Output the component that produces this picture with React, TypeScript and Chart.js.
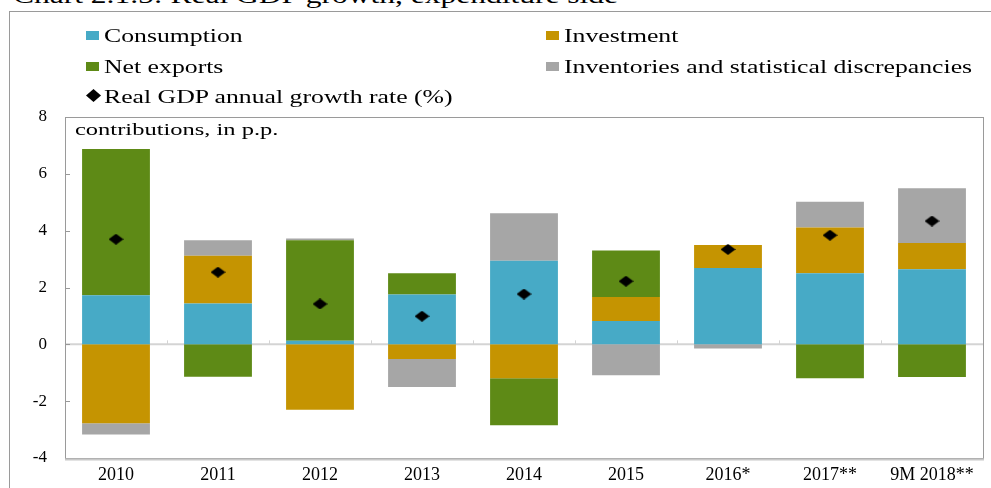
import React, { useEffect, useRef } from "react";
import { Chart, registerables } from "chart.js";

Chart.register(...registerables);

const categories = ["2010", "2011", "2012", "2013", "2014", "2015", "2016*", "2017**", "9M 2018**"];
const consumption = [1.73, 1.44, 0.13, 1.75, 2.94, 0.82, 2.69, 2.5, 2.64];
const investment = [-2.78, 1.68, -2.3, -0.52, -1.19, 0.85, 0.81, 1.61, 0.93];
const netExports = [5.14, -1.14, 3.53, 0.75, -1.66, 1.63, 0, -1.19, -1.15];
const inventories = [-0.39, 0.54, 0.06, -0.98, 1.67, -1.09, -0.15, 0.91, 1.92];
const gdpGrowth = [3.7, 2.54, 1.42, 0.99, 1.77, 2.22, 3.34, 3.84, 4.34];
const yTicks = [-4, -2, 0, 2, 4, 6, 8];

const C_CONS = "#47AAC6";
const C_INV = "#C59401";
const C_NX = "#5E8A16";
const C_INVT = "#A6A6A6";

const SERIF = "'Liberation Serif', 'Times New Roman', serif";

function makeDiamond(): HTMLCanvasElement {
  const c = document.createElement("canvas");
  c.width = 15;
  c.height = 11;
  const ctx = c.getContext("2d")!;
  ctx.fillStyle = "#000";
  ctx.beginPath();
  ctx.moveTo(0, 5.5);
  ctx.lineTo(7.5, 0);
  ctx.lineTo(15, 5.5);
  ctx.lineTo(7.5, 11);
  ctx.closePath();
  ctx.fill();
  return c;
}

const framePlugin = {
  id: "frame",
  beforeDatasetsDraw(chart: any) {
    const { ctx, chartArea } = chart;
    const y = chart.scales.y;
    const x = chart.scales.x;
    const y0 = y.getPixelForValue(0);
    ctx.save();
    ctx.strokeStyle = "#d4d4d4";
    ctx.lineWidth = 2;
    ctx.beginPath();
    ctx.moveTo(chartArea.left, y0);
    ctx.lineTo(chartArea.right, y0);
    ctx.stroke();
    ctx.lineWidth = 1;
    const n = categories.length;
    for (let i = 1; i < n; i++) {
      const xb = Math.round((x.getPixelForValue(i - 1) + x.getPixelForValue(i)) / 2) + 0.5;
      ctx.beginPath();
      ctx.moveTo(xb, y0);
      ctx.lineTo(xb, y0 - 4);
      ctx.stroke();
    }
    ctx.strokeStyle = "#999";
    yTicks.forEach((v) => {
      const py = Math.round(y.getPixelForValue(v)) + 0.5;
      ctx.beginPath();
      ctx.moveTo(chartArea.left, py);
      ctx.lineTo(chartArea.left + 5, py);
      ctx.stroke();
    });
    ctx.restore();
  },
  afterDraw(chart: any) {
    const { ctx, chartArea } = chart;
    ctx.save();
    ctx.strokeStyle = "#9a9a9a";
    ctx.lineWidth = 1;
    ctx.strokeRect(
      Math.round(chartArea.left) + 0.5,
      Math.round(chartArea.top) + 0.5,
      Math.round(chartArea.right - chartArea.left),
      Math.round(chartArea.bottom - chartArea.top)
    );
    ctx.strokeStyle = "#c8c8c8";
    ctx.lineWidth = 2;
    ctx.beginPath();
    ctx.moveTo(chartArea.left, Math.round(chartArea.bottom) + 1.5);
    ctx.lineTo(chartArea.right + 1, Math.round(chartArea.bottom) + 1.5);
    ctx.stroke();
    ctx.restore();
  },
};

const legendItems = [
  { label: "Consumption", color: C_CONS, left: 86, row: 0 },
  { label: "Investment", color: C_INV, left: 546, row: 0 },
  { label: "Net exports", color: C_NX, left: 86, row: 1 },
  { label: "Inventories and statistical discrepancies", color: C_INVT, left: 546, row: 1 },
];
const rowBaselines = [42, 73, 103];
const LEG_FONT = 18;
const STRETCH = 1.4;
const LEG_STRETCH = 1.43;

export default function App() {
  const ref = useRef<HTMLCanvasElement | null>(null);

  useEffect(() => {
    if (!ref.current) return;
    const diamond = makeDiamond();
    const barCommon = {
      type: "bar" as const,
      barPercentage: 0.665,
      categoryPercentage: 1,
      borderWidth: 0,
      order: 2,
      stack: "contrib",
    };
    const chart = new Chart(ref.current, {
      type: "bar",
      data: {
        labels: categories,
        datasets: [
          { ...barCommon, label: "Consumption", data: consumption, backgroundColor: C_CONS },
          { ...barCommon, label: "Investment", data: investment, backgroundColor: C_INV },
          { ...barCommon, label: "Net exports", data: netExports, backgroundColor: C_NX },
          { ...barCommon, label: "Inventories and statistical discrepancies", data: inventories, backgroundColor: C_INVT },
          {
            type: "line" as const,
            label: "Real GDP annual growth rate (%)",
            data: gdpGrowth,
            showLine: false,
            pointStyle: diamond as any,
            pointRadius: 7,
            stack: "gdp",
            order: 0,
          } as any,
        ],
      },
      options: {
        responsive: false,
        animation: false,
        devicePixelRatio: 1,
        layout: { padding: { left: 0, top: 117, right: 6, bottom: 0 } },
        plugins: { legend: { display: false }, tooltip: { enabled: false }, title: { display: false } },
        scales: {
          x: {
            stacked: true,
            grid: { display: false, drawTicks: false },
            border: { display: false },
            ticks: { color: "#000", font: { family: SERIF, size: 18 }, padding: 6, maxRotation: 0, autoSkip: false },
            afterFit: (s: any) => {
              s.height = 30;
            },
          },
          y: {
            stacked: true,
            min: -4,
            max: 8,
            grid: { display: false, drawTicks: false },
            border: { display: false },
            ticks: { stepSize: 2, color: "#000", font: { family: SERIF, size: 17 }, padding: 18 },
            afterFit: (s: any) => {
              s.width = 65;
            },
          },
        },
      },
      plugins: [framePlugin],
    } as any);
    return () => chart.destroy();
  }, []);

  const textStyle = (left: number, baseline: number, size: number, stretch = STRETCH): React.CSSProperties => ({
    position: "absolute",
    left,
    top: baseline - 0.8375 * size,
    fontFamily: SERIF,
    fontSize: size,
    lineHeight: `${size}px`,
    whiteSpace: "nowrap",
    color: "#000",
    transform: `scaleX(${stretch})`,
    transformOrigin: "left top",
  });

  return (
    <div style={{ position: "relative", width: 991, height: 488, overflow: "hidden", background: "#fff" }}>
      <style>{`body{margin:0}`}</style>
      <div style={textStyle(13, 4, 22.5)}>Chart 2.1.5: Real GDP growth, expenditure side</div>
      <div
        style={{
          position: "absolute",
          left: 9,
          top: 11,
          width: 1100,
          height: 600,
          borderTop: "1px solid #9a9a9a",
          borderLeft: "1px solid #9a9a9a",
        }}
      />
      <canvas ref={ref} width={991} height={488} style={{ position: "absolute", left: 0, top: 0, width: 991, height: 488 }} />
      {legendItems.map((it) => (
        <React.Fragment key={it.label}>
          <div
            style={{
              position: "absolute",
              left: it.left,
              top: rowBaselines[it.row] - 11,
              width: 13,
              height: 9,
              background: it.color,
            }}
          />
          <div style={textStyle(it.left + 18, rowBaselines[it.row], LEG_FONT, LEG_STRETCH)}>{it.label}</div>
        </React.Fragment>
      ))}
      <svg style={{ position: "absolute", left: 86, top: 89 }} width={15} height={13}>
        <polygon points="0,6.5 7.5,0 15,6.5 7.5,13" fill="#000" />
      </svg>
      <div style={textStyle(104, rowBaselines[2], LEG_FONT, LEG_STRETCH)}>Real GDP annual growth rate (%)</div>
      <div style={textStyle(75, 136, 17.5)}>contributions, in p.p.</div>
    </div>
  );
}
